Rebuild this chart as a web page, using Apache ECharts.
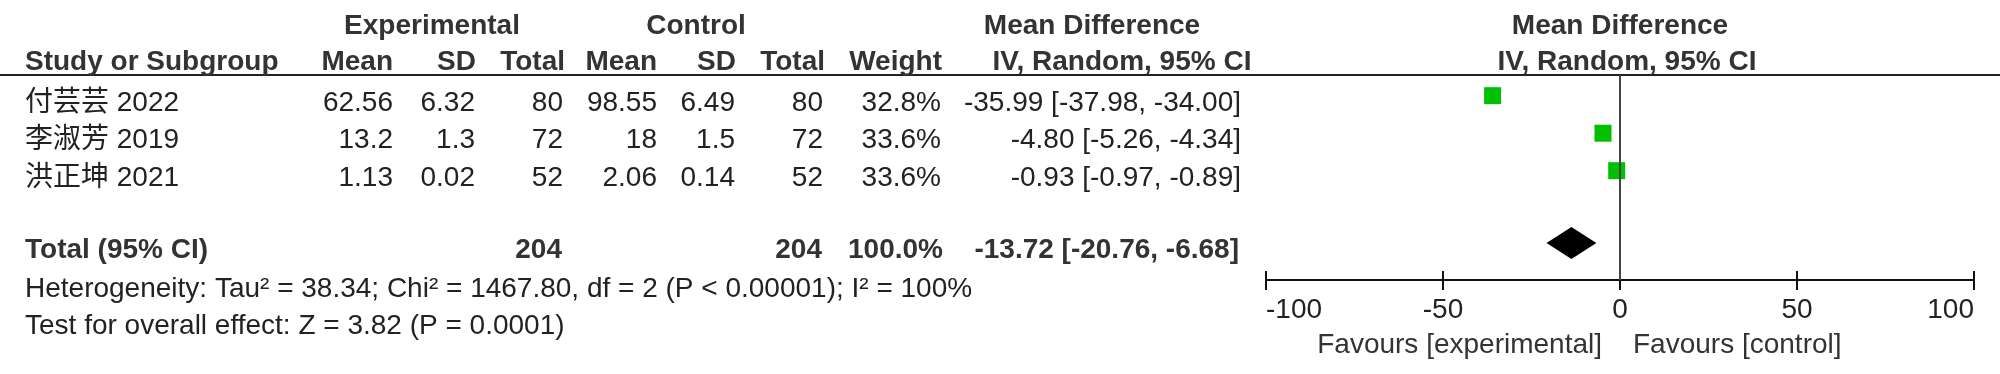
<!DOCTYPE html>
<html>
<head>
<meta charset="utf-8">
<script src="https://cdn.jsdelivr.net/npm/echarts@6/dist/echarts.min.js"></script>
<style>
  html, body { margin: 0; padding: 0; background: #fff; }
  #main { width: 2000px; height: 374px; }
</style>
</head>
<body>
<div id="main"></div>
<script>
// study rows
const studies = ['付芸芸 2022', '李淑芳 2019', '洪正坤 2021'];
const expMean = ['62.56', '13.2', '1.13'];
const expSD = ['6.32', '1.3', '0.02'];
const expTotal = [80, 72, 52];
const ctrlMean = ['98.55', '18', '2.06'];
const ctrlSD = ['6.49', '1.5', '0.14'];
const ctrlTotal = [80, 72, 52];
const weight = [32.8, 33.6, 33.6];
const md = [-35.99, -4.80, -0.93];
const ciLow = [-37.98, -5.26, -0.97];
const ciHigh = [-34.00, -4.34, -0.89];

// pooled
const totalExp = 204;
const totalCtrl = 204;
const totalWeight = 100.0;
const totalMd = -13.72;
const totalLow = -20.76;
const totalHigh = -6.68;

const heterogeneity = 'Heterogeneity: Tau² = 38.34; Chi² = 1467.80, df = 2 (P < 0.00001); I² = 100%';
const overall = 'Test for overall effect: Z = 3.82 (P = 0.0001)';

const xTicks = [-100, -50, 0, 50, 100];

// row slots on the hidden y axis
const studyRows = [1, 2, 3];
const totalRow = 4.93;
const hetRow = 5.95;
const testRow = 6.96;

const FONT = '"Liberation Sans", Arial, "Noto Sans CJK SC", sans-serif';
const FS = 28;
const TXT = '#222';
const HEAD = '#333';

let chart = echarts.init(document.getElementById('main'), null, { renderer: 'canvas' });

let option = {
    animation: false,
    grid: { left: 1266, right: 26, top: 75, bottom: 94 },
    xAxis: [{
        type: 'value',
        min: xTicks[0],
        max: xTicks[xTicks.length - 1],
        interval: 50,
        position: 'bottom',
        splitLine: { show: false },
        axisLine: { show: true, lineStyle: { color: '#111', width: 2 } },
        axisTick: { show: true, length: 10, lineStyle: { color: '#111', width: 2 } },
        axisLabel: {
            color: TXT, fontSize: FS, fontFamily: FONT, margin: 16,
            alignMinLabel: 'left', alignMaxLabel: 'right'
        }
    }, {
        type: 'value',
        min: xTicks[0],
        max: xTicks[xTicks.length - 1],
        interval: 50,
        position: 'bottom',
        offset: 0,
        splitLine: { show: false },
        axisLine: { show: true, lineStyle: { color: '#111', width: 2 } },
        axisTick: { show: true, inside: true, length: 9, lineStyle: { color: '#111', width: 2 } },
        axisLabel: { show: false }
    }],
    yAxis: {
        type: 'value',
        inverse: true,
        min: 0.448,
        max: 5.915,
        show: false
    },
    series: [
        {
            // confidence intervals
            type: 'custom',
            data: studyRows.map((r, i) => [ciLow[i], ciHigh[i], r]),
            encode: { x: [0, 1], y: 2 },
            renderItem: function (params, api) {
                let a = api.coord([api.value(0), api.value(2)]);
                let b = api.coord([api.value(1), api.value(2)]);
                return {
                    type: 'line',
                    shape: { x1: a[0], y1: a[1], x2: b[0], y2: b[1] },
                    style: { stroke: '#000', lineWidth: 2 }
                };
            },
            z: 2
        },
        {
            type: 'scatter',
            symbol: 'rect',
            symbolSize: 17,
            itemStyle: { color: '#00c000', opacity: 1 },
            data: studyRows.map((r, i) => [md[i], r]),
            z: 3,
            markLine: {
                silent: true,
                symbol: 'none',
                label: { show: false },
                lineStyle: { color: '#444', width: 2, type: 'solid' },
                data: [{ xAxis: 0 }]
            }
        },
        {
            // pooled diamond
            type: 'custom',
            data: [[totalLow, totalMd, totalHigh, totalRow]],
            encode: { x: [0, 1, 2], y: 3 },
            renderItem: function (params, api) {
                let l = api.coord([api.value(0), api.value(3)]);
                let c = api.coord([api.value(1), api.value(3)]);
                let r = api.coord([api.value(2), api.value(3)]);
                return {
                    type: 'polygon',
                    shape: { points: [[l[0], c[1]], [c[0], c[1] - 16], [r[0], c[1]], [c[0], c[1] + 16]] },
                    style: { fill: '#000' }
                };
            },
            z: 4
        }
    ]
};

chart.setOption(option);

// table text placed on the same row scale as the plot
function rowY(r) {
    return chart.convertToPixel({ gridIndex: 0 }, [0, r])[1] + 7.5;
}
function txt(s, x, y, align, bold, color) {
    return {
        type: 'text',
        x: x, y: y,
        silent: true,
        style: {
            text: s,
            fill: color || TXT,
            font: (bold ? 'bold ' : '') + FS + 'px ' + FONT,
            align: align,
            verticalAlign: 'middle'
        }
    };
}
const fmtCI = (m, l, h) => m.toFixed(2) + ' [' + l.toFixed(2) + ', ' + h.toFixed(2) + ']';

let g = [];
// divider under the header
g.push({
    type: 'line', silent: true,
    shape: { x1: 0, y1: 75, x2: 2000, y2: 75 },
    style: { stroke: '#222', lineWidth: 2 }
});
// header rows
let h1 = 26, h2 = 62.5;
g.push(txt('Experimental', 432, h1, 'center', true, HEAD));
g.push(txt('Control', 696, h1, 'center', true, HEAD));
g.push(txt('Mean Difference', 1092, h1, 'center', true, HEAD));
g.push(txt('Mean Difference', 1620, h1, 'center', true, HEAD));
g.push(txt('Study or Subgroup', 25, h2, 'left', true, HEAD));
g.push(txt('Mean', 393, h2, 'right', true, HEAD));
g.push(txt('SD', 476, h2, 'right', true, HEAD));
g.push(txt('Total', 565, h2, 'right', true, HEAD));
g.push(txt('Mean', 657, h2, 'right', true, HEAD));
g.push(txt('SD', 736, h2, 'right', true, HEAD));
g.push(txt('Total', 825, h2, 'right', true, HEAD));
g.push(txt('Weight', 942, h2, 'right', true, HEAD));
g.push(txt('IV, Random, 95% CI', 1122, h2, 'center', true, HEAD));
g.push(txt('IV, Random, 95% CI', 1627, h2, 'center', true, HEAD));

studies.forEach((s, i) => {
    let y = rowY(studyRows[i]);
    g.push(txt(s, 25, y, 'left'));
    g.push(txt(expMean[i], 393, y, 'right'));
    g.push(txt(expSD[i], 475, y, 'right'));
    g.push(txt(String(expTotal[i]), 563, y, 'right'));
    g.push(txt(ctrlMean[i], 657, y, 'right'));
    g.push(txt(ctrlSD[i], 735, y, 'right'));
    g.push(txt(String(ctrlTotal[i]), 823, y, 'right'));
    g.push(txt(weight[i].toFixed(1) + '%', 941, y, 'right'));
    g.push(txt(fmtCI(md[i], ciLow[i], ciHigh[i]), 1241, y, 'right'));
});

let ty = rowY(totalRow);
g.push(txt('Total (95% CI)', 25, ty, 'left', true, HEAD));
g.push(txt(String(totalExp), 562, ty, 'right', true, HEAD));
g.push(txt(String(totalCtrl), 822, ty, 'right', true, HEAD));
g.push(txt(totalWeight.toFixed(1) + '%', 943, ty, 'right', true, HEAD));
g.push(txt(fmtCI(totalMd, totalLow, totalHigh), 1239, ty, 'right', true, HEAD));

g.push(txt(heterogeneity, 25, rowY(hetRow), 'left'));
g.push(txt(overall, 25, rowY(testRow), 'left'));

// favours labels either side of zero
let zeroX = chart.convertToPixel({ xAxisIndex: 0 }, 0);
g.push(txt('Favours [experimental]', zeroX - 18, 345, 'right', false, '#333'));
g.push(txt('Favours [control]', zeroX + 13, 345, 'left', false, '#333'));

chart.setOption({ graphic: g });
</script>
</body>
</html>
